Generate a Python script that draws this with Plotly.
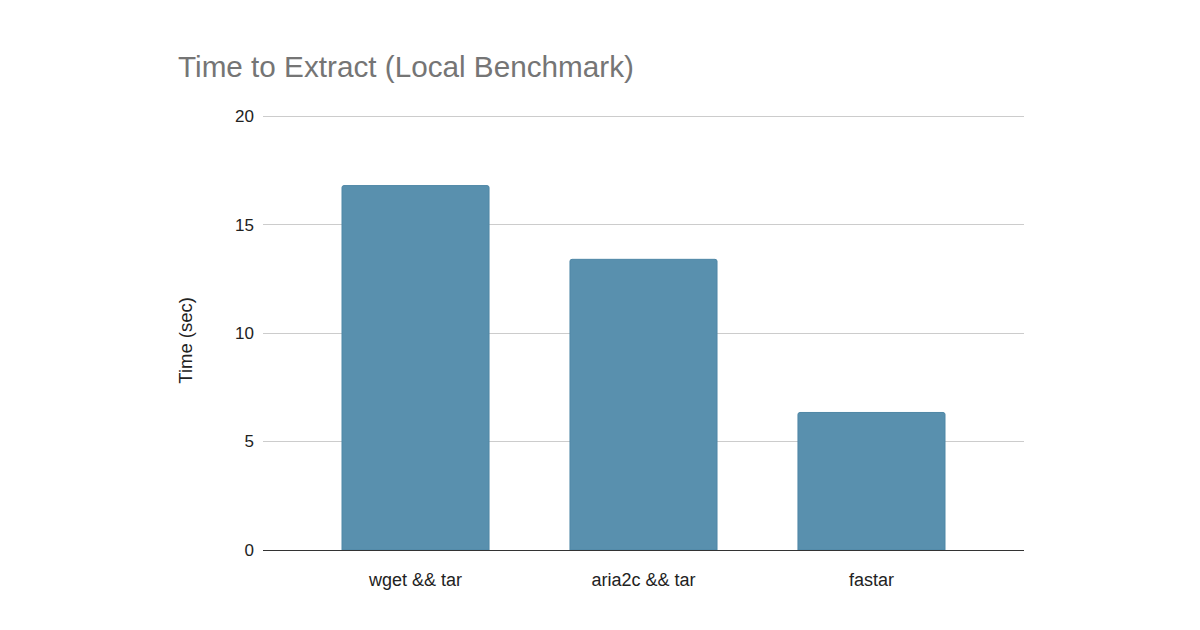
import plotly.graph_objects as go

categories = ["wget && tar", "aria2c && tar", "fastar"]
times = [16.8, 13.4, 6.34]
y_ticks = [0, 5, 10, 15, 20]

FONT = "Arial"

fig = go.Figure(go.Bar(
    x=categories, y=times,
    marker=dict(color="#5990AE", line=dict(color="#4f87a6", width=1), cornerradius=2),
    width=0.645,
))

# plot area: x 263..1024, y(20)=116, y(0)=550 (page coords; figure sits at 8,8)
fig.update_layout(
    width=1200, height=630,
    paper_bgcolor="white", plot_bgcolor="white",
    margin=dict(l=255, r=184, t=106, b=88),
    font=dict(family=FONT, color="#222222"),
    showlegend=False,
    annotations=[
        dict(text="Time to Extract (Local Benchmark)", xref="paper", yref="paper",
             x=-87/761, y=1 + 48/436, xanchor="left", yanchor="middle", showarrow=False,
             font=dict(size=29.7, color="#757575", family=FONT)),
        dict(text="Time (sec)", xref="paper", yref="paper",
             x=-77/761, y=0.48, xanchor="center", yanchor="middle", textangle=-90, showarrow=False,
             font=dict(size=18.5, color="#222222", family=FONT)),
    ],
)
fig.update_yaxes(range=[0, 20.1], tickvals=y_ticks, showgrid=True, gridcolor="#cccccc", gridwidth=1,
                 zeroline=False, showline=False, tickfont=dict(size=17, color="#222222", family=FONT),
                 ticks="", ticklabelstandoff=8)
fig.update_xaxes(range=[-0.669, 2.669], showline=True, linecolor="#333333", linewidth=1, ticks="",
                 tickfont=dict(size=18, color="#222222", family=FONT), ticklabelstandoff=13)

fig.write_html("out.html")
